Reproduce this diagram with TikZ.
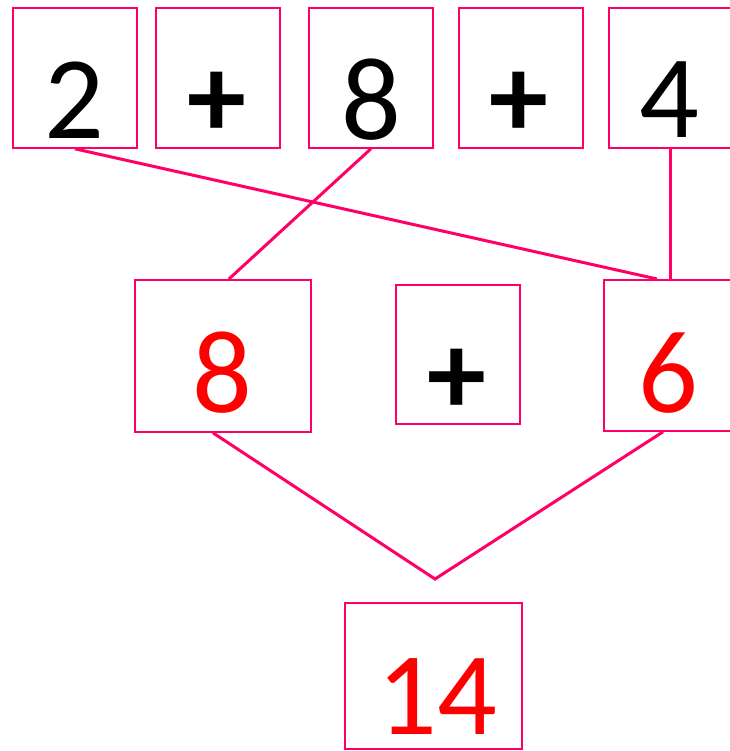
\documentclass[tikz,border=0pt]{standalone}
\usepackage{fontspec}
\setmainfont{Carlito}
\definecolor{edge}{HTML}{FF0066}
\begin{document}
\begin{tikzpicture}[x=1pt,y=-1pt,
  box/.style={draw=edge,line width=1.8pt,rectangle,inner sep=0pt,anchor=north west},
  num/.style={inner sep=0pt,anchor=center,font=\fontsize{118}{118}\selectfont},
  op/.style={inner sep=0pt,anchor=center,font=\fontsize{118}{118}\selectfont\bfseries},
  link/.style={draw=edge,line width=3pt}]
\useasboundingbox (0,0) rectangle (729,751);
% top row
\node[box,minimum width=124pt,minimum height=140pt] (b1) at (12,7) {};
\node[box,minimum width=124pt,minimum height=140pt] (b2) at (155,7) {};
\node[box,minimum width=124pt,minimum height=140pt] (b3) at (308,7) {};
\node[box,minimum width=124pt,minimum height=140pt] (b4) at (458,7) {};
\node[box,minimum width=124pt,minimum height=140pt] (b5) at (608,7) {};
\node[num] (t1) at (74,100) {2};
\node[op]  (t2) at (217,105) {+};
\node[num] (t3) at (371,100) {8};
\node[op]  (t4) at (519,105) {+};
\node[num] (t5) at (669,100) {4};
% middle row
\node[box,minimum width=176pt,minimum height=152pt] (m1) at (134,279) {};
\node[box,minimum width=124pt,minimum height=139pt] (m2) at (395,284) {};
\node[box,minimum width=130pt,minimum height=151pt] (m3) at (603,279) {};
\node[num,text=red] (u1) at (222,373) {8};
\node[op] (u2) at (457,382) {+};
\node[num,text=red] (u3) at (668,373) {6};
% bottom
\node[box,minimum width=177pt,minimum height=146pt] (r1) at (344,602) {};
\node[num,text=red] (v1) at (437,697) {14};
% connectors
\coordinate (apex) at (435,579);
\draw[link] (b1.south) -- ([xshift=54pt]m3.north west);
\draw[link] (b3.south) -- ([xshift=6pt]m1.north);
\draw[link] (b5.south) -- (m3.north west -| b5.south);
\draw[link] ([xshift=-10pt]m1.south) -- (apex) -- ([xshift=60pt]m3.south west);
\end{tikzpicture}
\end{document}
